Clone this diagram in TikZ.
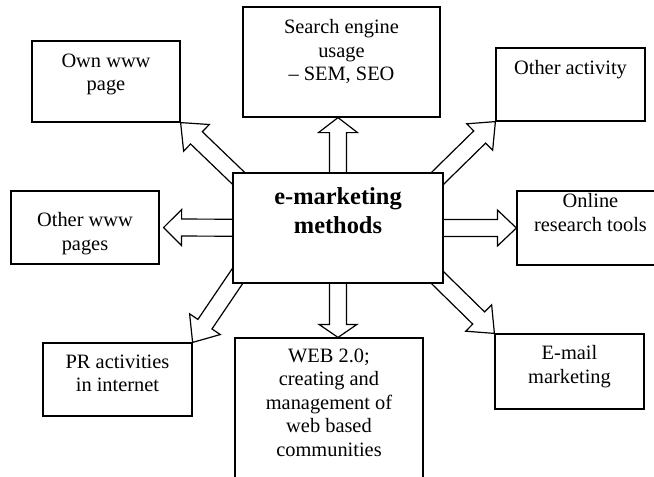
\documentclass[tikz,border=0pt]{standalone}
\usepackage{fontspec}
\setmainfont{Liberation Serif}
\usetikzlibrary{calc}
\pgfdeclarelayer{back}
\pgfsetlayers{back,main}

\tikzset{
  box/.style={draw, fill=white, line width=1.2pt, inner sep=0pt},
  lbl/.style={anchor=north, align=center, inner sep=0pt,
              font=\fontsize{20.4}{23.5}\selectfont},
  mainlbl/.style={anchor=north, align=center, inner sep=0pt,
              font=\fontsize{24.4}{29}\selectfont\bfseries},
  blk/.style={draw, fill=white, line width=1.2pt, line join=miter},
}

% hollow block arrow: #1 tail, #2 tip, #3 head length, #4 head half width
\newcommand\blockarrow[4]{%
  \coordinate (hb) at ($(#2)!#3!(#1)$);
  \draw[blk] ($(#1)!8.5pt!90:(#2)$) -- ($(hb)!8.5pt!90:(#2)$)
    -- ($(hb)!#4!90:(#2)$) -- (#2) -- ($(hb)!#4!-90:(#2)$)
    -- ($(hb)!8.5pt!-90:(#2)$) -- ($(#1)!8.5pt!-90:(#2)$) -- cycle;
}

\begin{document}
\begin{tikzpicture}[x=1pt, y=-1pt]
\useasboundingbox (0,0) rectangle (654,477);
\clip (0,0) rectangle (654,477);

% outer boxes
\node[box, minimum width=148pt, minimum height=81pt]  (own)    at (106,81.5)   {};
\node[box, minimum width=197pt, minimum height=110pt] (search) at (341.5,62)   {};
\node[box, minimum width=149pt, minimum height=73pt]  (oact)   at (570.5,84.5) {};
\node[box, minimum width=148pt, minimum height=73pt]  (owww)   at (85,227.5)   {};
\node[box, minimum width=147pt, minimum height=74pt]  (online) at (590.5,228)  {};
\node[box, minimum width=149pt, minimum height=73pt]  (pr)     at (117.5,379.5){};
\node[box, minimum width=188pt, minimum height=164pt] (web)    at (329,420)    {};
\node[box, minimum width=149pt, minimum height=75pt]  (email)  at (569.5,371.5){};

% central box
\node[box, minimum width=210pt, minimum height=110pt] (center) at (338,228) {};

% labels
\node[lbl] (tOwn)    at ([yshift=-13pt]own.north)    {Own www\\page};
\node[lbl] (tSearch) at ([yshift=-13pt]search.north) {Search engine\\usage\\\textendash{} SEM, SEO};
\node[lbl] (tOact)   at ([yshift=-13pt]oact.north)   {Other activity};
\node[lbl] (tOwww)   at ([yshift=-22pt]owww.north)   {Other www\\pages};
\node[lbl] (tOnline) at ([yshift=-3pt]online.north)  {Online\\research tools};
\node[lbl] (tPr)     at ([yshift=-12pt]pr.north)     {PR activities\\in internet};
\node[lbl] (tWeb)    at ([yshift=-11pt]web.north)    {WEB 2.0;\\creating and\\management of\\web based\\communities};
\node[lbl] (tEmail)  at ([yshift=-12pt]email.north)  {E-mail\\marketing};
\node[mainlbl] (tCenter) at ([yshift=-14.5pt]center.north) {e-marketing\\methods};

% block arrows from the central box
\begin{pgfonlayer}{back}
  \coordinate (upTip)   at (center.north |- search.south);
  \coordinate (downTip) at (center.south |- web.north);
  \coordinate (leftTip) at ([xshift=4pt]owww.east);
  \blockarrow{center.center}{upTip}{15pt}{19.5pt}
  \blockarrow{center.center}{downTip}{13pt}{19pt}
  \blockarrow{center.center}{leftTip}{18pt}{18pt}
  \blockarrow{center.center}{online.west}{19pt}{18pt}
  \coordinate (nwT) at ($(center.north west)!-25pt!(own.south east)$);
  \coordinate (neT) at ($(center.north east)!-25pt!(oact.south west)$);
  \coordinate (swT) at ($(center.south west)!-25pt!(pr.north east)$);
  \coordinate (seT) at ($(center.south east)!-25pt!(email.north west)$);
  \blockarrow{nwT}{own.south east}{22pt}{18.5pt}
  \blockarrow{neT}{oact.south west}{22pt}{18.5pt}
  \blockarrow{swT}{pr.north east}{22pt}{18.5pt}
  \blockarrow{seT}{email.north west}{22pt}{18.5pt}
\end{pgfonlayer}
\end{tikzpicture}
\end{document}
